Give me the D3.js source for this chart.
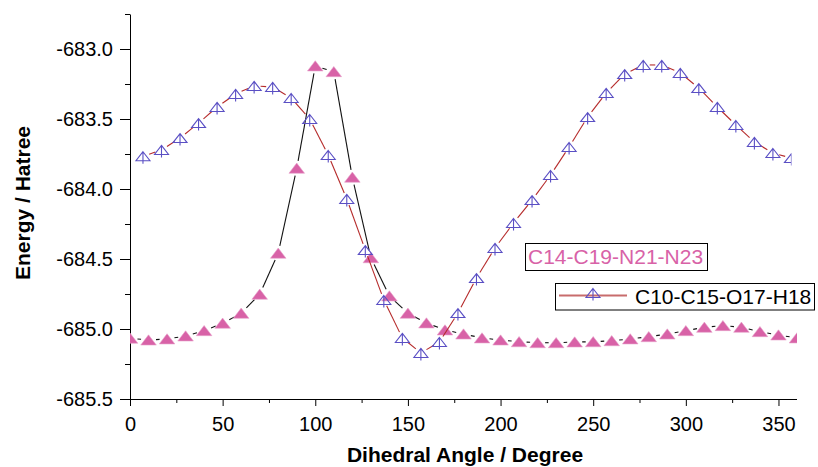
<!DOCTYPE html>
<html><head><meta charset="utf-8">
<script src="https://cdn.jsdelivr.net/npm/d3@7"></script>
<style>
body{margin:0;background:#fff}
svg{display:block}
text{font-family:"Liberation Sans",Arial,Helvetica,sans-serif}
</style>
</head><body>
<svg id="chart" width="818" height="467"></svg>
<script>
// ---- data ----
const seriesNames = ["C14-C19-N21-N23", "C10-C15-O17-H18"];
const pinkAngles = [0,10,20,30,40,50,60,70,80,90,100,110,120,130,140,150,160,170,180,190,200,210,220,230,240,250,260,270,280,290,300,310,320,330,340,350,360];
const pinkEnergy = [-685.066,-685.079,-685.071,-685.050,-685.012,-684.959,-684.888,-684.752,-684.459,-683.852,-683.121,-683.162,-683.916,-684.491,-684.764,-684.888,-684.957,-685.007,-685.036,-685.064,-685.079,-685.091,-685.098,-685.098,-685.093,-685.091,-685.084,-685.071,-685.055,-685.036,-685.012,-684.988,-684.976,-684.988,-685.019,-685.043,-685.064];
const blueAngles = [7,17,27,37,47,57,67,77,87,97,107,117,127,137,147,157,167,177,187,197,207,217,227,237,247,257,267,277,287,297,307,317,327,337,347,357];
const blueEnergy = [-683.766,-683.721,-683.636,-683.529,-683.414,-683.321,-683.264,-683.271,-683.350,-683.500,-683.757,-684.071,-684.436,-684.793,-685.064,-685.171,-685.093,-684.886,-684.636,-684.421,-684.243,-684.079,-683.900,-683.700,-683.486,-683.314,-683.179,-683.114,-683.114,-683.171,-683.279,-683.414,-683.543,-683.664,-683.743,-683.779];
const xTicks = [0,50,100,150,200,250,300,350];
const xMinorTicks = [25,75,125,175,225,275,325];
const yTicks = [-685.5,-685.0,-684.5,-684.0,-683.5,-683.0];
const yMinorTicks = [-685.25,-684.75,-684.25,-683.75,-683.25,-682.75];
const xTitle = "Dihedral Angle / Degree";
const yTitle = "Energy / Hatree";

// ---- styles ----
const pinkColor = "#d862a7";
const blueColor = "#5a4fc4";
const redLine = "#b52a2a";

const svg = d3.select("#chart");
const x = d3.scaleLinear().domain([0, 360]).range([130, 797]);
const y = d3.scaleLinear().domain([-685.5, -682.75]).range([399, 14]);

// clip paths
const defs = svg.append("defs");
defs.append("clipPath").attr("id","clipPink").append("rect")
  .attr("x", x(0)).attr("y", 0).attr("width", x(360) - x(0)).attr("height", 467);
defs.append("clipPath").attr("id","clipBlue").append("rect")
  .attr("x", x(0)).attr("y", 0).attr("width", x(blueAngles[blueAngles.length-1]) - x(0)).attr("height", 467);

// axes
const fmt = d => d.toFixed(1);
svg.append("g").attr("transform", `translate(${x(0)},0)`)
  .call(d3.axisLeft(y).tickValues(yTicks).tickSize(10).tickSizeOuter(0).tickPadding(7).tickFormat(fmt));
svg.append("g").attr("transform", `translate(${x(0)},0)`)
  .call(d3.axisLeft(y).tickValues(yMinorTicks).tickSize(5).tickSizeOuter(0).tickFormat(""))
  .call(g => g.select(".domain").remove());
const xAxisG = svg.append("g").attr("transform", `translate(0,${y(-685.5)})`)
  .call(d3.axisBottom(x).tickValues(xTicks).tickSize(7).tickSizeOuter(0).tickPadding(11).tickFormat(d3.format("d")));
svg.append("g").attr("transform", `translate(0,${y(-685.5)})`)
  .call(d3.axisBottom(x).tickValues(xMinorTicks).tickSize(4).tickSizeOuter(0).tickFormat(""))
  .call(g => g.select(".domain").remove());
svg.selectAll(".tick text").attr("font-size", 20).attr("font-family", '"Liberation Sans",Arial,sans-serif').attr("fill","#000");
svg.selectAll(".domain, .tick line").attr("stroke", "#000").attr("stroke-width", 1);
xAxisG.select(".domain").attr("d", `M${x(0)},0.5H${x(360)}`);

// titles
svg.append("text").attr("x", 465).attr("y", 462).attr("text-anchor","middle")
  .attr("font-size", 21).attr("font-weight","bold").text(xTitle);
svg.append("text").attr("transform","translate(30,203) rotate(-90)").attr("text-anchor","middle")
  .attr("font-size", 21).attr("font-weight","bold").text(yTitle);

// gapped line segments (lines stop short of markers)
function gapped(pts, gap){
  const segs = [];
  for (let i = 0; i < pts.length - 1; i++){
    const [x1,y1] = pts[i], [x2,y2] = pts[i+1];
    const dx = x2-x1, dy = y2-y1, L = Math.hypot(dx,dy);
    if (L <= 2*gap) continue;
    const ux = dx/L, uy = dy/L;
    segs.push([x1+ux*gap, y1+uy*gap, x2-ux*gap, y2-uy*gap]);
  }
  return segs;
}

const pinkPts = pinkAngles.map((a,i) => [x(a), y(pinkEnergy[i])]);
const bluePts = blueAngles.map((a,i) => [x(a), y(blueEnergy[i])]);

// pink series
const gP = svg.append("g").attr("clip-path","url(#clipPink)");
gP.selectAll("line").data(gapped(pinkPts, 7.5)).join("line")
  .attr("x1", d=>d[0]).attr("y1", d=>d[1]).attr("x2", d=>d[2]).attr("y2", d=>d[3])
  .attr("stroke","#111").attr("stroke-width",1.1);
const triP = "M0,-5.2L7.8,5L-7.8,5Z";
gP.selectAll("path").data(pinkPts).join("path")
  .attr("d", triP).attr("transform", d=>`translate(${d[0]},${d[1]})`)
  .attr("fill", pinkColor).attr("stroke", "#e7a3cb").attr("stroke-width", 0.6);

// blue series
const gB = svg.append("g").attr("clip-path","url(#clipBlue)");
gB.selectAll("line").data(gapped(bluePts, 6.5)).join("line")
  .attr("x1", d=>d[0]).attr("y1", d=>d[1]).attr("x2", d=>d[2]).attr("y2", d=>d[3])
  .attr("stroke", redLine).attr("stroke-width",1.1);
const triB = "M0,-4.5L7,4.5L-7,4.5Z M0,-4.5V7.5";
gB.selectAll("path").data(bluePts).join("path")
  .attr("d", triB).attr("transform", d=>`translate(${d[0]},${d[1]})`)
  .attr("fill", "none").attr("stroke", blueColor).attr("stroke-width", 1.1);

// legend
const lg = svg.append("g");
lg.append("rect").attr("x",525.5).attr("y",243.5).attr("width",182).attr("height",27)
  .attr("fill","#fff").attr("stroke","#000").attr("stroke-width",1);
lg.append("text").attr("x",528).attr("y",263.5).attr("font-size",21).attr("fill",pinkColor).text(seriesNames[0]);
lg.append("rect").attr("x",555.5).attr("y",283.5).attr("width",259).attr("height",26.5)
  .attr("fill","#fff").attr("stroke","#000").attr("stroke-width",1);
lg.append("line").attr("x1",559).attr("x2",627).attr("y1",295.5).attr("y2",295.5)
  .attr("stroke","#c86c6c").attr("stroke-width",1.8);
lg.append("path").attr("d",triB).attr("transform","translate(593,293)")
  .attr("fill","none").attr("stroke",blueColor).attr("stroke-width",1.1);
lg.append("text").attr("x",635).attr("y",303.5).attr("font-size",21).attr("fill","#000").text(seriesNames[1]);
</script>
</body></html>
